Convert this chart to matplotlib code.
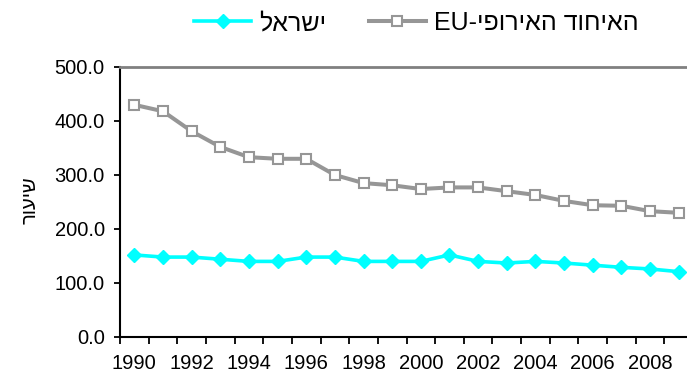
import numpy as np
import matplotlib
matplotlib.use("Agg")
import matplotlib.pyplot as plt

plt.rcParams['font.family'] = ['Liberation Sans', 'DejaVu Sans']

years = list(range(1990, 2010))
israel = [152, 148, 148, 144, 140, 140, 148, 148, 140, 140,
          140, 152, 140, 137, 140, 137, 133, 129, 126, 121]
eu = [430, 418, 381, 352, 333, 330, 330, 300, 285, 281,
      274, 277, 277, 270, 263, 252, 244, 243, 233, 230]
label_israel = "ישראל"
label_eu = "האיחוד האירופי-EU"
y_label = "שיעור"


def visual(s):
    # matplotlib has no bidi support: lay out hebrew runs right-to-left by hand
    if s.endswith("-EU"):
        return "EU-" + s[:-3][::-1]
    return s[::-1]


fig = plt.figure(figsize=(6.87, 3.77), dpi=100)
ax = fig.add_axes([120 / 687, 40 / 377, 573 / 687, 270 / 377])

x = np.arange(len(years))
l_isr, = ax.plot(x, israel, color='#00FFFF', lw=2.6, marker='D', ms=6.8,
                 mec='#00FFFF', mfc='#00FFFF', clip_on=False, zorder=3)
l_eu, = ax.plot(x, eu, color='#969696', lw=2.9, marker='s', ms=7,
                mfc='white', mec='#969696', mew=1.5, clip_on=False, zorder=3)

ax.set_xlim(-0.5, len(years) - 0.5)
ax.set_ylim(0, 500)
ax.set_yticks(np.arange(0, 501, 100))
ax.set_yticklabels([f"{v:.1f}" for v in range(0, 501, 100)])

# ticks on category boundaries, labels on every other year
ax.set_xticks(np.arange(-0.5, len(years) - 0.5, 1))
ax.set_xticklabels([])
ax.set_xticks(x[::2], minor=True)
ax.set_xticklabels([str(y) for y in years[::2]], minor=True)
ax.tick_params(axis='x', which='major', length=5, width=1.3, direction='out')
ax.tick_params(axis='x', which='minor', length=0, pad=12, labelsize=14.5)
ax.tick_params(axis='y', length=4, width=1.3, direction='out', pad=7, labelsize=14.5)

for side in ['left', 'bottom']:
    ax.spines[side].set_linewidth(1.5)
    ax.spines[side].set_color('black')
ax.spines['top'].set_color('#808080')
ax.spines['top'].set_linewidth(2)
ax.spines['right'].set_visible(False)

fig.text(30 / 687, 1 - 200 / 377, visual(y_label), rotation=90,
         ha='center', va='center', fontsize=14.5)

fig.legend([l_isr, l_eu], [visual(label_israel), visual(label_eu)],
           loc='center', bbox_to_anchor=(416 / 687, 1 - 23 / 377), ncol=2,
           frameon=False, fontsize=18, handlelength=2.3, handletextpad=0.3,
           columnspacing=1.7, borderaxespad=0)

fig.savefig("out.png", dpi=100)
